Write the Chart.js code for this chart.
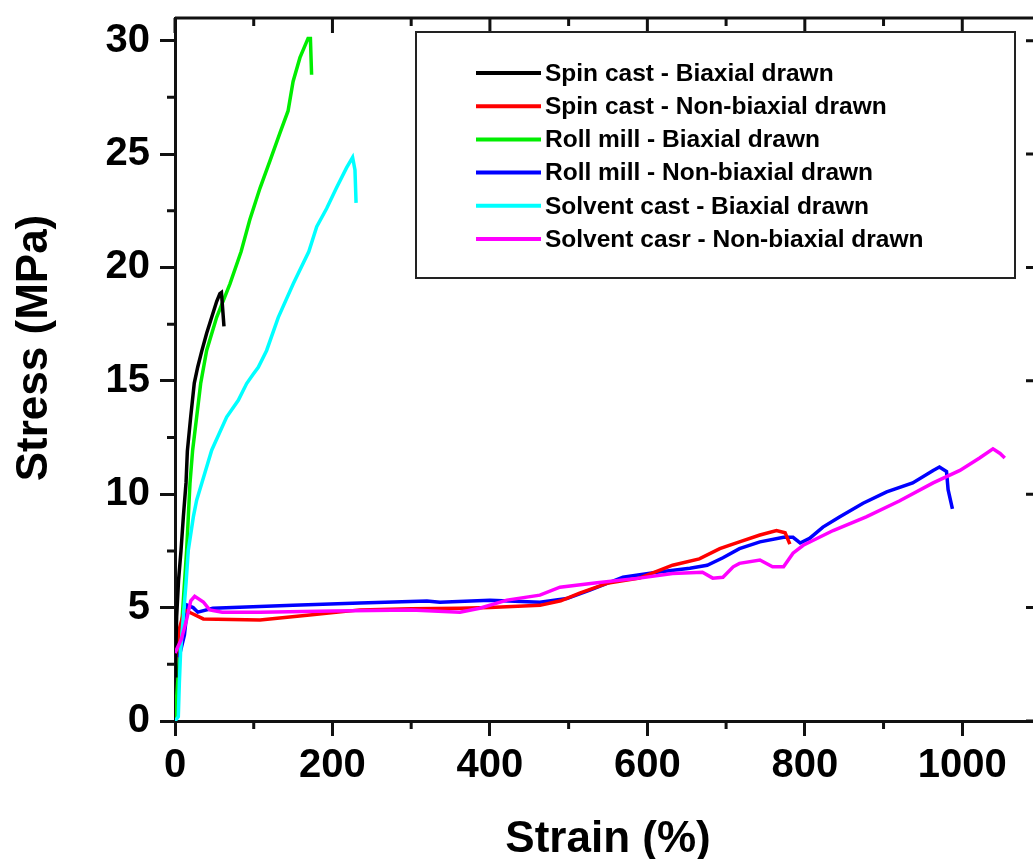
<!DOCTYPE html>
<html><head><meta charset="utf-8">
<script src="https://cdn.jsdelivr.net/npm/chart.js@4.4.1/dist/chart.umd.min.js"></script>
<style>
html,body{margin:0;padding:0;background:#fff;overflow:hidden;width:1033px;height:859px}
#wrap{position:relative;width:1060px;height:859px}
</style></head>
<body><div id="wrap"><canvas id="c" width="1060" height="859"></canvas></div>
<script>
// ---- data ----
const seriesLabels = [
  'Spin cast - Biaxial drawn',
  'Spin cast - Non-biaxial drawn',
  'Roll mill - Biaxial drawn',
  'Roll mill - Non-biaxial drawn',
  'Solvent cast - Biaxial drawn',
  'Solvent casr - Non-biaxial drawn'
];
const seriesColors = ['#000000','#ff0000','#00ee00','#0000ff','#00ffff','#ff00ff'];
const xAxisTitle = 'Strain (%)';
const yAxisTitle = 'Stress (MPa)';

const spinBiaxStrain = [0, 1, 2.1, 4.5, 7.6, 10.6, 14, 15.7, 19.9, 24.5, 28.8, 33.9, 40.2, 46.6, 52.9, 57, 59, 62.2];
const spinBiaxStress = [2.0, 3.0, 4.6, 6.2, 7.5, 9.0, 10.5, 11.9, 13.4, 14.9, 15.6, 16.3, 17.1, 17.8, 18.5, 18.85, 18.9, 17.4];

const spinNonStrain = [0, 5, 12, 21, 36, 108, 171, 235, 300, 362, 400, 463.5, 490, 514, 548.6, 590, 632, 666, 692, 717, 743, 764, 775, 781];
const spinNonStress = [2.5, 4.0, 4.9, 4.75, 4.5, 4.45, 4.67, 4.9, 4.95, 4.97, 5.0, 5.1, 5.3, 5.64, 6.07, 6.3, 6.87, 7.15, 7.6, 7.9, 8.2, 8.4, 8.3, 7.8];

const rollBiaxStrain = [0, 5, 8, 10.6, 14.8, 16.9, 19, 22.4, 27.5, 32.6, 40.2, 52.9, 69.8, 84, 95, 108, 120.6, 133, 143.6, 150, 158.7, 169, 172, 173.5];
const rollBiaxStress = [0, 2.5, 4.0, 5.33, 7.53, 9.0, 10.47, 11.94, 13.4, 14.88, 16.34, 17.8, 19.28, 20.7, 22.1, 23.5, 24.7, 25.9, 26.9, 28.2, 29.25, 30.1, 30.1, 28.5];

const rollNonStrain = [5, 12, 16, 23, 29, 48, 150, 235, 320, 336.5, 400, 463.5, 497.7, 527, 569, 612, 654, 676, 696, 717, 743, 773, 785, 794, 806, 823, 844, 874, 904, 937, 963, 971, 980, 982, 987.5];
const rollNonStress = [2.8, 3.8, 5.1, 5.0, 4.8, 4.97, 5.1, 5.2, 5.29, 5.24, 5.33, 5.24, 5.4, 5.77, 6.34, 6.56, 6.74, 6.87, 7.2, 7.6, 7.9, 8.1, 8.1, 7.85, 8.05, 8.55, 9.0, 9.6, 10.1, 10.5, 11.05, 11.2, 11.0, 10.2, 9.35];

const solvBiaxStrain = [0, 4.2, 5.5, 7.2, 10.6, 14, 16.9, 23.3, 27.5, 33.9, 46.6, 65.6, 80.4, 91, 99.5, 105.8, 116.4, 131.2, 150.2, 170, 180, 192.6, 205, 218, 225.6, 228.6, 230];
const solvBiaxStress = [0, 0.19, 1.66, 3.13, 4.6, 6.07, 7.53, 9.0, 9.74, 10.47, 11.94, 13.4, 14.14, 14.88, 15.3, 15.6, 16.34, 17.8, 19.28, 20.7, 21.8, 22.6, 23.5, 24.4, 24.85, 24.3, 22.85];

const solvNonStrain = [0, 8, 15, 20, 25, 36, 44, 60, 108, 200, 300, 362, 387, 421.6, 463.5, 489, 536, 590, 632, 670, 683, 696, 709, 717, 743, 759, 773, 785, 798, 836, 878, 920, 963, 997, 1022, 1039, 1048, 1054];
const solvNonStress = [3.0, 3.6, 4.5, 5.3, 5.5, 5.25, 4.9, 4.8, 4.8, 4.85, 4.9, 4.8, 4.97, 5.33, 5.55, 5.9, 6.1, 6.3, 6.5, 6.56, 6.3, 6.34, 6.8, 6.95, 7.1, 6.8, 6.8, 7.4, 7.75, 8.4, 9.0, 9.7, 10.5, 11.05, 11.6, 12.0, 11.8, 11.6];

const strainTicks = [0, 200, 400, 600, 800, 1000];
const strainMinorTicks = [100, 300, 500, 700, 900, 1100];
const stressTicks = [0, 5, 10, 15, 20, 25, 30];
const stressMinorTicks = [2.5, 7.5, 12.5, 17.5, 22.5, 27.5];

// ---- build ----
const strainSets = [spinBiaxStrain, spinNonStrain, rollBiaxStrain, rollNonStrain, solvBiaxStrain, solvNonStrain];
const stressSets = [spinBiaxStress, spinNonStress, rollBiaxStress, rollNonStress, solvBiaxStress, solvNonStress];
const drawOrder = [1, 3, 5, 4, 2, 0];
const datasets = seriesLabels.map((lab, i) => ({
  label: lab,
  data: strainSets[i].map((x, k) => ({x: x, y: stressSets[i][k]})),
  borderColor: seriesColors[i],
  backgroundColor: seriesColors[i],
  borderWidth: 3.5,
  pointRadius: 0,
  showLine: true,
  tension: 0,
  order: drawOrder[i]
}));

const FONT = '"Liberation Sans", Arial, Helvetica, sans-serif';
Chart.defaults.font.family = FONT;
Chart.defaults.color = '#000';

const AXC = '#111';
const framePlugin = {
  id: 'frame',
  afterDatasetsDraw(chart) {
    const ctx = chart.ctx, a = chart.chartArea;
    const xs = chart.scales.x, ys = chart.scales.y;
    ctx.save();
    ctx.strokeStyle = AXC;
    ctx.lineWidth = 3;
    ctx.beginPath();
    ctx.moveTo(a.left, a.top); ctx.lineTo(a.right, a.top);
    ctx.moveTo(a.right, a.top); ctx.lineTo(a.right, a.bottom);
    ctx.stroke();
    ctx.beginPath();
    strainMinorTicks.forEach(v => { const p = xs.getPixelForValue(v); ctx.moveTo(p, a.bottom); ctx.lineTo(p, a.bottom + 8); ctx.moveTo(p, a.top); ctx.lineTo(p, a.top + 8); });
    stressMinorTicks.forEach(v => { const p = ys.getPixelForValue(v); ctx.moveTo(a.left, p); ctx.lineTo(a.left - 8, p); ctx.moveTo(a.right, p); ctx.lineTo(a.right - 8, p); });
    strainTicks.forEach(v => { const p = xs.getPixelForValue(v); ctx.moveTo(p, a.top); ctx.lineTo(p, a.top + 15); });
    stressTicks.forEach(v => { const p = ys.getPixelForValue(v); ctx.moveTo(a.right, p); ctx.lineTo(a.right - 15, p); });
    ctx.stroke();
    // y axis title
    ctx.translate(47, 348);
    ctx.rotate(-Math.PI / 2);
    ctx.font = 'bold 44px ' + FONT;
    ctx.fillStyle = '#000';
    ctx.textAlign = 'center';
    ctx.textBaseline = 'alphabetic';
    ctx.fillText(yAxisTitle, 0, 0);
    ctx.restore();
  }
};

const legendPlugin = {
  id: 'boxLegend',
  afterDraw(chart) {
    const ctx = chart.ctx;
    const bx = 416, by = 32, bw = 599, bh = 246;
    ctx.save();
    ctx.fillStyle = '#fff';
    ctx.fillRect(bx, by, bw, bh);
    ctx.strokeStyle = '#222';
    ctx.lineWidth = 2;
    ctx.strokeRect(bx, by, bw, bh);
    ctx.font = 'bold 24.5px ' + FONT;
    ctx.textBaseline = 'middle';
    ctx.fillStyle = '#000';
    chart.data.datasets.forEach((ds, i) => {
      const y = 73 + i * 33.2;
      ctx.strokeStyle = ds.borderColor;
      ctx.lineWidth = 4;
      ctx.beginPath(); ctx.moveTo(476, y); ctx.lineTo(541, y); ctx.stroke();
      ctx.fillText(ds.label, 545, y + 1);
    });
    ctx.restore();
  }
};

new Chart(document.getElementById('c'), {
  type: 'scatter',
  data: { datasets },
  plugins: [framePlugin, legendPlugin],
  options: {
    responsive: false,
    animation: false,
    devicePixelRatio: 1,
    layout: { padding: { top: 18, right: 19, left: 0, bottom: 0 } },
    plugins: { legend: { display: false }, tooltip: { enabled: false } },
    scales: {
      x: {
        type: 'linear', min: 0, max: 1100,
        afterBuildTicks: s => { s.ticks = strainTicks.map(v => ({ value: v })); },
        afterFit: s => { s.height = 138; s.paddingLeft = 0; s.paddingRight = 0; },
        ticks: { font: { size: 40, weight: 'bold' }, color: '#000', padding: 6, maxRotation: 0, autoSkip: false, callback: v => String(v) },
        grid: { drawOnChartArea: false, tickLength: 15, tickWidth: 3, tickColor: AXC },
        border: { width: 3, color: AXC },
        title: { display: true, text: xAxisTitle, font: { size: 44, weight: 'bold' }, color: '#000', padding: { top: 0, bottom: -7 } }
      },
      y: {
        type: 'linear', min: 0, max: 31,
        afterBuildTicks: s => { s.ticks = stressTicks.map(v => ({ value: v })); },
        afterFit: s => { s.width = 175; s.paddingTop = 0; s.paddingBottom = 0; },
        ticks: { font: { size: 40, weight: 'bold' }, color: '#000', padding: 10, autoSkip: false, callback: v => String(v) },
        grid: { drawOnChartArea: false, tickLength: 15, tickWidth: 3, tickColor: AXC },
        border: { width: 3, color: AXC },
        title: { display: false, text: yAxisTitle }
      }
    }
  }
});
</script>
</body></html>
